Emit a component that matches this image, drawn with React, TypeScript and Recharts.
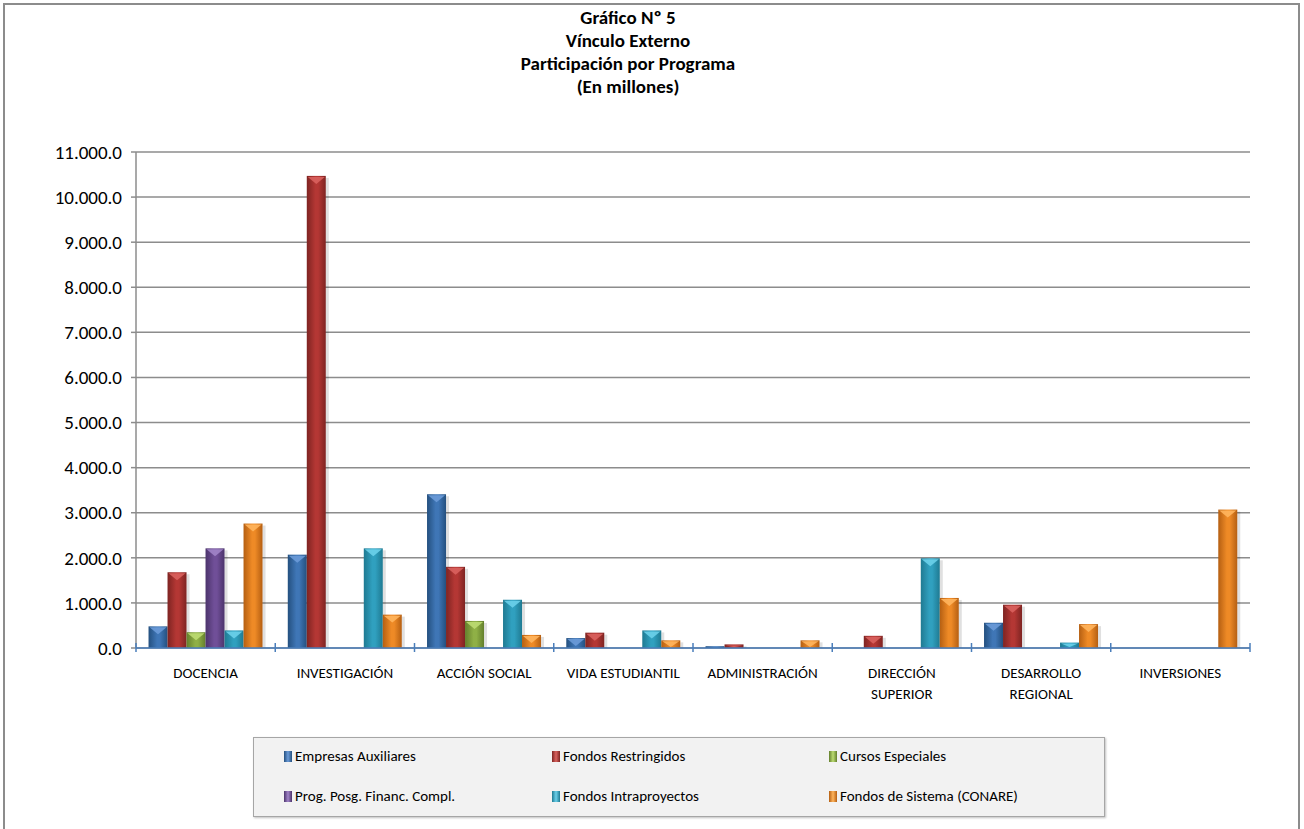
import React from 'react';
import { BarChart, Bar, XAxis, YAxis, CartesianGrid, Legend } from 'recharts';

const CATEGORIES = [
  'DOCENCIA',
  'INVESTIGACIÓN',
  'ACCIÓN SOCIAL',
  'VIDA ESTUDIANTIL',
  'ADMINISTRACIÓN',
  'DIRECCIÓN SUPERIOR',
  'DESARROLLO REGIONAL',
  'INVERSIONES',
];

const EMPRESAS = [480, 2070, 3410, 220, 40, 0, 560, 0];
const RESTRINGIDOS = [1680, 10470, 1800, 340, 80, 270, 960, 0];
const CURSOS = [350, 0, 600, 0, 0, 0, 0, 0];
const POSGRADO = [2210, 0, 0, 0, 0, 0, 0, 0];
const INTRAPROYECTOS = [390, 2210, 1070, 390, 0, 1990, 120, 0];
const CONARE = [2760, 740, 290, 170, 170, 1110, 530, 3070];

const Y_TICKS = [0, 1000, 2000, 3000, 4000, 5000, 6000, 7000, 8000, 9000, 10000, 11000];

const TITLE_LINES = ['Gráfico Nº 5', 'Vínculo Externo', 'Participación por Programa', '(En millones)'];

const SERIES = [
  { key: 'empresas', name: 'Empresas Auxiliares', values: EMPRESAS, dark: '#24507f', mid: '#3f76b6', light: '#6b9bd8' },
  { key: 'restringidos', name: 'Fondos Restringidos', values: RESTRINGIDOS, dark: '#7e2422', mid: '#b43734', light: '#d9625e' },
  { key: 'cursos', name: 'Cursos Especiales', values: CURSOS, dark: '#637f2c', mid: '#8fb046', light: '#bcdc72' },
  { key: 'posgrado', name: 'Prog. Posg. Financ. Compl.', values: POSGRADO, dark: '#4c346c', mid: '#704f98', light: '#a184c8' },
  { key: 'intra', name: 'Fondos Intraproyectos', values: INTRAPROYECTOS, dark: '#1f7a92', mid: '#30a0bf', light: '#6bd0ea' },
  { key: 'conare', name: 'Fondos de Sistema (CONARE)', values: CONARE, dark: '#b55f12', mid: '#ee8a26', light: '#ffb55e' },
];

const data = CATEGORIES.map((cat, i) => {
  const row: Record<string, string | number> = { cat };
  SERIES.forEach((s) => {
    row[s.key] = s.values[i];
  });
  return row;
});

const FONT = "Carlito, Calibri, 'Open Sans', sans-serif";
const PLOT_LEFT = 136;
const PLOT_RIGHT = 1250;
const BAND = (PLOT_RIGHT - PLOT_LEFT) / CATEGORIES.length;

const fmt = (v: number) => {
  const [int, dec] = v.toFixed(1).split('.');
  return int.replace(/\B(?=(\d{3})+(?!\d))/g, '.') + '.' + dec;
};

const BeveledBar = (props: any) => {
  const { x, y, width, height, s } = props;
  if (!height || height <= 0.5) return null;
  const c = SERIES[s];
  const tri = Math.min(height - 1, width * 0.42);
  return (
    <g>
      <rect x={x + width} y={y + 2} width={3} height={height - 2} fill="rgba(0,0,0,0.12)" />
      <rect x={x} y={y} width={width} height={height} fill={`url(#grad-${c.key})`} />
      {tri > 1 && (
        <polygon
          points={`${x + 1},${y + 1} ${x + width - 1},${y + 1} ${x + width / 2},${y + tri}`}
          fill={c.light}
          opacity={0.9}
        />
      )}
    </g>
  );
};

const CategoryTick = (props: any) => {
  const { x, y, payload, index } = props;
  const label: string = payload.value;
  const lines = label.length > 16 ? label.split(' ') : [label];
  const left = x - BAND / 2;
  return (
    <g>
      <line x1={left} x2={left} y1={y - 5} y2={y + 4} stroke="#4a7ebb" strokeWidth={1.5} />
      {index === CATEGORIES.length - 1 && (
        <line x1={x + BAND / 2} x2={x + BAND / 2} y1={y - 5} y2={y + 4} stroke="#4a7ebb" strokeWidth={1.5} />
      )}
      {lines.map((l, i) => (
        <text key={i} x={x} y={y + 30 + i * 21} textAnchor="middle" fontSize={15} fontFamily={FONT} fill="#000">
          {l}
        </text>
      ))}
    </g>
  );
};

const LEGEND_COLS = [30, 298, 575];

const LegendBox = () => (
  <div
    style={{
      position: 'relative',
      width: 852,
      height: 80,
      boxSizing: 'border-box',
      background: '#f2f2f2',
      border: '1px solid #a6a6a6',
      boxShadow: '1px 1px 2px rgba(0,0,0,0.25)',
      fontFamily: FONT,
      fontSize: 15,
      color: '#000',
    }}
  >
    {SERIES.map((s, i) => (
      <div
        key={s.key}
        style={{
          position: 'absolute',
          left: LEGEND_COLS[i % 3],
          top: i < 3 ? 8 : 48,
          height: 20,
          display: 'flex',
          alignItems: 'center',
          whiteSpace: 'nowrap',
        }}
      >
        <span
          style={{
            display: 'inline-block',
            width: 8,
            height: 11,
            marginRight: 3,
            background: `linear-gradient(to right, ${s.dark}, ${s.light} 50%, ${s.dark})`,
          }}
        />
        {s.name}
      </div>
    ))}
  </div>
);

export default function App() {
  return (
    <div style={{ position: 'absolute', left: 0, top: 0, width: 1304, height: 829, overflow: 'hidden', background: '#fff' }}>
      <div
        style={{
          position: 'absolute',
          left: 3,
          top: 3,
          width: 1297,
          height: 850,
          boxSizing: 'border-box',
          border: '2px solid #8c8c8c',
        }}
      />
      <div
        style={{
          position: 'absolute',
          left: 428,
          top: 6,
          width: 400,
          textAlign: 'center',
          fontFamily: FONT,
          fontWeight: 'bold',
          fontSize: 19,
          lineHeight: '23px',
          color: '#000',
        }}
      >
        {TITLE_LINES.map((t) => (
          <div key={t}>{t}</div>
        ))}
      </div>
      <div style={{ position: 'absolute', left: 0, top: 0 }}>
        <BarChart
          width={1304}
          height={829}
          data={data}
          margin={{ top: 152, right: 1304 - PLOT_RIGHT, left: 0, bottom: 121 }}
          barCategoryGap="9%"
          barGap={0}
        >
          <defs>
            {SERIES.map((s) => (
              <linearGradient key={s.key} id={`grad-${s.key}`} x1="0" y1="0" x2="1" y2="0">
                <stop offset="0%" stopColor={s.dark} />
                <stop offset="45%" stopColor={s.mid} />
                <stop offset="60%" stopColor={s.mid} />
                <stop offset="100%" stopColor={s.dark} />
              </linearGradient>
            ))}
          </defs>
          <CartesianGrid vertical={false} stroke="#8c8c8c" strokeWidth={1.5} />
          <YAxis
            width={PLOT_LEFT}
            domain={[0, 11000]}
            ticks={Y_TICKS}
            interval={0}
            tickFormatter={fmt}
            axisLine={{ stroke: '#8c8c8c', strokeWidth: 1.5 }}
            tickLine={{ stroke: '#8c8c8c', strokeWidth: 1.5 }}
            tickSize={5}
            tickMargin={9}
            tick={{ fill: '#000', fontSize: 19, fontFamily: FONT }}
          />
          <XAxis
            dataKey="cat"
            height={60}
            interval={0}
            axisLine={{ stroke: '#4a7ebb', strokeWidth: 1.5 }}
            tickLine={false}
            tickSize={0}
            tickMargin={0}
            tick={<CategoryTick />}
          />
          <Legend
            layout="vertical"
            align="center"
            verticalAlign="middle"
            wrapperStyle={{ left: 253, top: 737, width: 852, height: 80 }}
            content={() => <LegendBox />}
          />
          {SERIES.map((s, i) => (
            <Bar
              key={s.key}
              dataKey={s.key}
              name={s.name}
              fill={s.mid}
              isAnimationActive={false}
              shape={(p: any) => <BeveledBar {...p} s={i} />}
            />
          ))}
        </BarChart>
      </div>
    </div>
  );
}
